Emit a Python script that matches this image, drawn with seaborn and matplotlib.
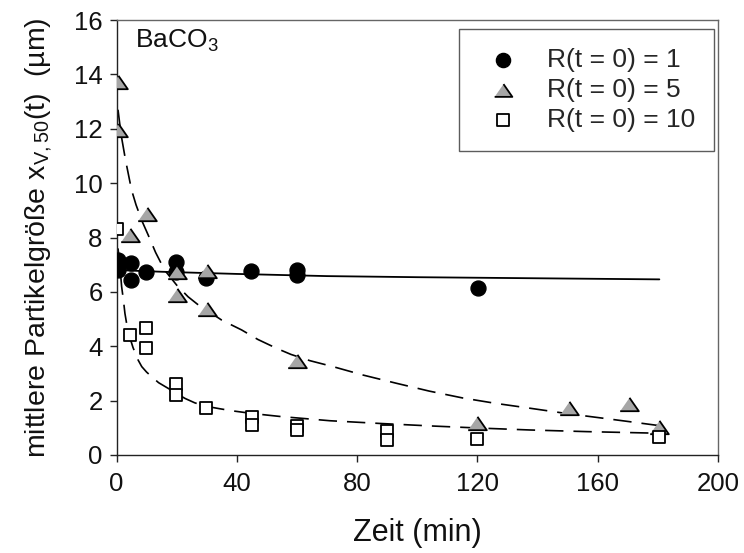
import numpy as np
import pandas as pd
import matplotlib
matplotlib.use("Agg")
import matplotlib.pyplot as plt
import seaborn as sns

# Measured median particle size of BaCO3 vs. time for three initial ratios R(t=0)
t_r1 = [0.5, 0.5, 4.8, 4.8, 9.7, 19.7, 19.7, 29.6, 44.6, 59.9, 59.9, 120.1]
y_r1 = [7.17, 6.80, 7.05, 6.43, 6.74, 7.11, 6.74, 6.52, 6.77, 6.79, 6.62, 6.13]

t_r5 = [0.5, 0.5, 4.5, 10.0, 20.0, 20.0, 30.0, 30.0, 60.0, 120.0, 150.5, 170.5, 180.5]
y_r5 = [13.72, 11.95, 8.09, 8.88, 6.74, 5.88, 6.76, 5.36, 3.45, 1.17, 1.72, 1.86, 1.02]

t_r10 = [0.0, 4.5, 9.8, 9.8, 19.8, 19.8, 29.6, 45.0, 45.0, 60.0, 60.0, 90.0, 90.0, 120.0, 180.5]
y_r10 = [8.33, 4.41, 4.66, 3.95, 2.60, 2.21, 1.74, 1.41, 1.10, 1.07, 0.92, 0.88, 0.55, 0.58, 0.67]

# Fitted trend curves
fit_t_r1 = [0.5, 15, 40, 70, 100, 130, 160, 180.5]
fit_y_r1 = [6.80, 6.74, 6.66, 6.58, 6.54, 6.51, 6.48, 6.46]

fit_t_r5 = [0.5, 1.5, 3.0, 5.0, 6.5, 8.5, 10.5, 13.0, 16.0, 20.0, 23.8, 28.0, 31.6,
            35.0, 41.6, 47.0, 53.3, 58.0, 64.3, 72.0, 82.0, 93.0, 104.0, 115.0,
            126.0, 137.5, 150.0, 162.0, 171.0, 180.5]
fit_y_r5 = [12.70, 11.80, 10.85, 9.75, 9.20, 8.60, 8.10, 7.45, 6.80, 6.25, 5.82, 5.45, 5.21,
            4.96, 4.60, 4.25, 3.92, 3.70, 3.47, 3.25, 2.94, 2.64, 2.35, 2.10,
            1.90, 1.72, 1.52, 1.35, 1.22, 1.08]

fit_t_r10 = [0.5, 1.1, 1.7, 2.3, 2.8, 3.5, 4.5, 5.5, 7.2, 8.4, 10.0, 11.7, 14.0, 17.2,
             20.0, 22.8, 26.0, 29.4, 34.4, 38.8, 44.9, 49.9, 55.0, 61.5, 71.0, 87.6,
             104.2, 120.8, 137.5, 156.3, 180.5]
fit_y_r10 = [7.60, 7.00, 6.20, 5.70, 5.21, 4.75, 4.30, 3.95, 3.49, 3.25, 3.05, 2.88, 2.66, 2.45,
             2.26, 2.08, 1.92, 1.80, 1.70, 1.62, 1.53, 1.47, 1.41, 1.35, 1.26, 1.16,
             1.07, 0.99, 0.92, 0.86, 0.80]

legend_labels = ["R(t = 0) = 1", "R(t = 0) = 5", "R(t = 0) = 10"]
x_ticks = [0, 40, 80, 120, 160, 200]
y_ticks = [0, 2, 4, 6, 8, 10, 12, 14, 16]

sns.set_theme(style="ticks")
plt.rcParams["font.family"] = ["Liberation Sans", "DejaVu Sans"]
plt.rcParams["mathtext.fontset"] = "custom"
plt.rcParams["mathtext.rm"] = "Liberation Sans"
plt.rcParams["mathtext.it"] = "Liberation Sans"

fig = plt.figure(figsize=(7.44, 5.53), dpi=100)
ax = fig.add_axes([116.5 / 744, 1 - 455 / 553, (718 - 116.5) / 744, 435 / 553])

dash = (0, (11, 6))
sns.lineplot(x=fit_t_r1, y=fit_y_r1, ax=ax, color="black", linewidth=1.3,
             estimator=None, sort=True, zorder=2)
sns.lineplot(x=fit_t_r5, y=fit_y_r5, ax=ax, color="black", linewidth=1.2,
             linestyle=dash, estimator=None, sort=True, zorder=2)
sns.lineplot(x=fit_t_r10, y=fit_y_r10, ax=ax, color="black", linewidth=1.2,
             linestyle=dash, estimator=None, sort=True, zorder=2)

tri = [(-1.0, -0.72), (1.0, -0.72), (0.0, 0.72)]
sns.scatterplot(x=t_r1, y=y_r1, ax=ax, marker="o", s=115, color="black",
                edgecolor="black", linewidth=1.0, label=legend_labels[0], zorder=3)
sns.scatterplot(x=t_r5, y=y_r5, ax=ax, marker=tri, s=180, color="#a6a6a6",
                edgecolor="black", linewidth=1.3, label=legend_labels[1], zorder=3)
sns.scatterplot(x=t_r10, y=y_r10, ax=ax, marker="s", s=80, color="white",
                edgecolor="black", linewidth=1.3, label=legend_labels[2], zorder=3)

ax.set_xlim(0, 200)
ax.set_ylim(0, 16)
ax.set_xticks(x_ticks)
ax.set_yticks(y_ticks)
ax.tick_params(axis="both", direction="out", length=5, width=1.0, color="#222222",
               labelsize=18.5, labelcolor="#111111")
ax.tick_params(axis="x", pad=7)
ax.tick_params(axis="y", pad=5)

for side in ["left", "bottom"]:
    ax.spines[side].set_color("#222222")
    ax.spines[side].set_linewidth(1.0)
for side in ["top", "right"]:
    ax.spines[side].set_visible(True)
    ax.spines[side].set_color("#666666")
    ax.spines[side].set_linewidth(1.0)

ax.set_xlabel("Zeit (min)", fontsize=22, labelpad=16, color="#111111")
ax.set_ylabel(r"mittlere Partikelgröße x$_{\mathregular{V,50}}$(t)  (µm)",
              fontsize=20.5, labelpad=14, color="#111111")

ax.text(0.031, 0.936, r"BaCO$_{\mathregular{3}}$", transform=ax.transAxes,
        fontsize=19, ha="left", va="baseline", color="#111111")

leg = ax.legend(loc="upper right", bbox_to_anchor=(0.993, 0.979), borderaxespad=0,
                fontsize=19, frameon=True, fancybox=False, edgecolor="#333333",
                handletextpad=0.75, handlelength=1.83, borderpad=0.72,
                labelspacing=0.22, markerscale=0.95)
leg.get_frame().set_linewidth(1.0)

fig.savefig("out.png", dpi=100)
